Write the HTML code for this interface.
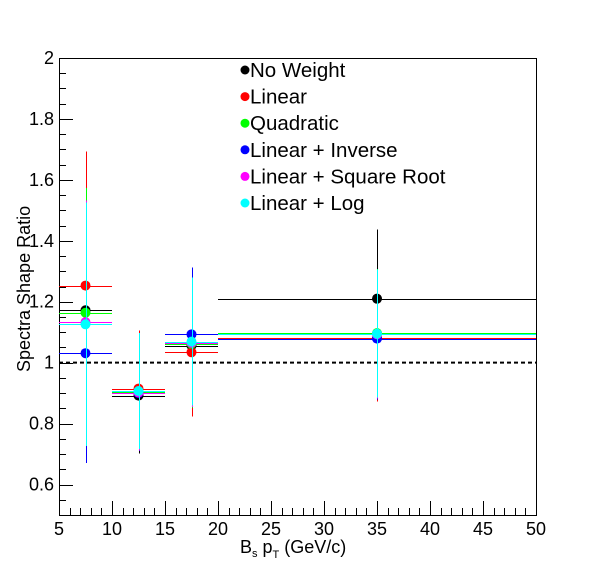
<!DOCTYPE html>
<html><head><meta charset="utf-8"><style>
body{margin:0;background:#fff}
svg{display:block;font-family:"Liberation Sans",sans-serif}
</style></head><body>
<svg id="c" width="596" height="572"></svg>
<script>
const binLo=[5,10,15,20];
const binHi=[10,15,20,50];
const names=["No Weight","Linear","Quadratic","Linear + Inverse","Linear + Square Root","Linear + Log"];
const colors=["#000000","#ff0000","#00ff00","#0000ff","#ff00ff","#00ffff"];
const vNo=[1.172,0.892,1.056,1.210];
const eNo=[0.40,0.19,0.21,0.227];
const vLin=[1.253,0.915,1.034,1.082];
const eLin=[0.44,0.19,0.21,0.21];
const vQuad=[1.164,0.905,1.062,1.097];
const eQuad=[0.41,0.19,0.21,0.21];
const vInv=[1.031,0.900,1.093,1.079];
const eInv=[0.36,0.19,0.22,0.20];
const vSqrt=[1.133,0.902,1.065,1.093];
const eSqrt=[0.40,0.19,0.21,0.21];
const vLog=[1.126,0.907,1.069,1.095];
const eLog=[0.40,0.19,0.21,0.21];
const xTicks=[5,10,15,20,25,30,35,40,45,50];
const yTicks=[0.6,0.8,1,1.2,1.4,1.6,1.8,2];
const series=[[vNo,eNo],[vLin,eLin],[vQuad,eQuad],[vInv,eInv],[vSqrt,eSqrt],[vLog,eLog]];

const X0=59,X1=536,Y0=515,Y1=58,xmin=5,xmax=50,ymin=0.5,ymax=2;
const sx=v=>X0+(v-xmin)/(xmax-xmin)*(X1-X0);
const sy=v=>Y0-(v-ymin)/(ymax-ymin)*(Y0-Y1);
const px=v=>Math.round(v)+0.5;
const svg=document.getElementById('c');
const NS="http://www.w3.org/2000/svg";
function mk(t,a,p){const e=document.createElementNS(NS,t);for(const k in a)e.setAttribute(k,a[k]);(p||svg).appendChild(e);return e;}

const frame=mk('rect',{x:X0+0.5,y:Y1+0.5,width:X1-X0,height:Y0-Y1,fill:'none',stroke:'#000','stroke-width':1,'shape-rendering':'crispEdges'});



for(let v=5;v<=50;v+=1){const maj=(v%5===0);
 const t=mk('line',{x1:px(sx(v)),x2:px(sx(v)),y1:Y0,y2:Y0-(maj?14:7),stroke:'#000','shape-rendering':'crispEdges'});
 
 }
xTicks.forEach(v=>{const t=mk('text',{x:sx(v),y:Y0+20,'font-size':18,'text-anchor':'middle'});t.textContent=v;
 
 });
for(let i=0;i<=30;i++){const v=0.5+i*0.05;const maj=(i%4===2);
 const t=mk('line',{x1:X0,x2:X0+(maj?14:7),y1:px(sy(v)),y2:px(sy(v)),stroke:'#000','shape-rendering':'crispEdges'});
 
 }
yTicks.forEach(v=>{const t=mk('text',{x:X0-5,y:sy(v)+6,'font-size':18,'text-anchor':'end'});t.textContent=String(v);
 
 });

const yt=mk('text',{x:0,y:0,'font-size':18,'text-anchor':'start',transform:'translate(30,372) rotate(-90)'});
yt.textContent="Spectra Shape Ratio";



const xt=mk('text',{x:240,y:553,'font-size':18});
xt.innerHTML='B<tspan font-size="11" dy="4">s</tspan><tspan dy="-4"> p</tspan><tspan font-size="11" dy="5">T</tspan><tspan dy="-5"> (GeV/c)</tspan>';



const ref=mk('line',{x1:X0,x2:X1,y1:sy(1),y2:sy(1),stroke:'#000','stroke-width':2,'stroke-dasharray':'4,3'});



series.forEach((s,k)=>{const g=mk('g',{});
 
 
 const [vals,errs]=s;
 vals.forEach((v,i)=>{const xc=(binLo[i]+binHi[i])/2;
  mk('line',{x1:sx(binLo[i]),x2:sx(binHi[i]),y1:px(sy(v)),y2:px(sy(v)),stroke:colors[k],'stroke-width':1,'shape-rendering':'crispEdges'},g);
  mk('line',{x1:px(sx(xc)),x2:px(sx(xc)),y1:sy(v-errs[i]),y2:sy(v+errs[i]),stroke:colors[k],'stroke-width':1,'shape-rendering':'crispEdges'},g);
  const c=mk('circle',{cx:sx(xc),cy:sy(v),r:5,fill:colors[k]},g);
  
  
 });
});

names.forEach((n,k)=>{const y=70+k*26.6;
 const c=mk('circle',{cx:245,cy:y,r:4.5,fill:colors[k]});
 
 
 const t=mk('text',{x:250,y:y+7,'font-size':20.5});t.textContent=n;
 
 });
</script>
</body></html>
